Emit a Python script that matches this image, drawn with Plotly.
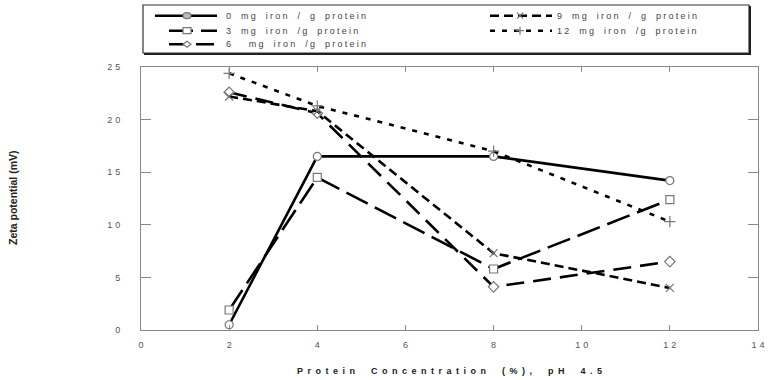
import plotly.graph_objects as go

# Protein concentration (%) at which zeta potential was measured
protein_conc = [2, 4, 8, 12]

# Zeta potential (mV) for each iron loading
zeta_0mg = [0.5, 16.5, 16.5, 14.2]
zeta_3mg = [1.9, 14.5, 5.8, 12.4]
zeta_6mg = [22.6, 20.6, 4.1, 6.5]
zeta_9mg = [22.2, 20.8, 7.3, 4.0]
zeta_12mg = [24.4, 21.3, 17.0, 10.3]

series_names = ["0 mg iron / g protein", "3 mg iron /g protein", "6  mg iron /g protein",
                "9 mg iron / g protein", "12 mg iron /g protein"]

x_ticks = [0, 2, 4, 6, 8, 10, 12, 14]
y_ticks = [0, 5, 10, 15, 20, 25]

FONT = "Liberation Sans, Arial, sans-serif"
W, H = 768, 380
M_L, M_R, M_T, M_B = 141, 10, 67, 50
PW, PH = W - M_L - M_R, H - M_T - M_B


def spaced(s, sep="\u2005", word="\u2004 "):
    """Letter-spaced label text."""
    return sep.join(word if c == " " else c for c in s)


def px_x(px):
    return (px - M_L) / PW


def px_y(py):
    return (H - M_B - py) / PH


# (name, values, dash, marker symbol, legend column, legend row)
series = [
    (series_names[0], zeta_0mg, "solid", "circle", 0, 0),
    (series_names[1], zeta_3mg, "24px,8px", "square", 0, 1),
    (series_names[2], zeta_6mg, "18px,9px", "diamond", 0, 2),
    (series_names[3], zeta_9mg, "9px,5px", "x-thin-open", 1, 0),
    (series_names[4], zeta_12mg, "5px,7px", "cross-thin-open", 1, 1),
]

MARK_GRAY = "#777777"

fig = go.Figure()
for name, vals, dash, sym, _, _ in series:
    thin = "thin" in sym
    fig.add_trace(go.Scatter(
        x=protein_conc, y=vals, name=name,
        mode="lines+markers",
        line=dict(color="black", width=2.6, dash=dash),
        marker=dict(symbol=sym, size=8,
                    color=MARK_GRAY if thin else "white",
                    line=dict(color=MARK_GRAY, width=1.2)),
        showlegend=False,
    ))

# ---- legend block drawn above the plot area ----
shapes = []
annotations = []
box_l, box_r, box_t, box_b = 143, 749, 5, 53
shapes.append(dict(type="rect", xref="paper", yref="paper",
                   x0=px_x(box_l), x1=px_x(box_r), y0=px_y(box_b), y1=px_y(box_t),
                   line=dict(color="#333333", width=1.2), fillcolor="white", layer="above"))
# heavier right / bottom edge
shapes.append(dict(type="path", xref="paper", yref="paper",
                   path=f"M {px_x(box_r + 1)} {px_y(box_t + 1)} L {px_x(box_r + 1)} {px_y(box_b + 1)} "
                        f"L {px_x(box_l + 1)} {px_y(box_b + 1)}",
                   line=dict(color="#222222", width=2), layer="above"))

row_y = [15.7, 30.7, 44.3]
col_line = [(169, 217), (490, 552)]
col_mark = [187, 520]
col_text = [224, 555]


def marker_shape(sym, cx, cy):
    r = 4
    common = dict(xref="paper", yref="paper", layer="above",
                  line=dict(color=MARK_GRAY, width=1.2))
    if sym == "circle":
        return dict(type="circle", x0=px_x(cx - r), x1=px_x(cx + r),
                    y0=px_y(cy + 3), y1=px_y(cy - 3), fillcolor="#bbbbbb", **common)
    if sym == "square":
        return dict(type="rect", x0=px_x(cx - r), x1=px_x(cx + r),
                    y0=px_y(cy + 3), y1=px_y(cy - 3), fillcolor="white", **common)
    if sym == "diamond":
        p = (f"M {px_x(cx - r)} {px_y(cy)} L {px_x(cx)} {px_y(cy - 3)} "
             f"L {px_x(cx + r)} {px_y(cy)} L {px_x(cx)} {px_y(cy + 3)} Z")
        return dict(type="path", path=p, fillcolor="white", **common)
    if sym.startswith("x"):
        p = (f"M {px_x(cx - 3)} {px_y(cy - 3)} L {px_x(cx + 3)} {px_y(cy + 3)} "
             f"M {px_x(cx - 3)} {px_y(cy + 3)} L {px_x(cx + 3)} {px_y(cy - 3)}")
        return dict(type="path", path=p, **common)
    p = (f"M {px_x(cx - 4)} {px_y(cy)} L {px_x(cx + 4)} {px_y(cy)} "
         f"M {px_x(cx)} {px_y(cy - 4)} L {px_x(cx)} {px_y(cy + 4)}")
    return dict(type="path", path=p, **common)


for name, vals, dash, sym, col, row in series:
    y = row_y[row]
    x0, x1 = col_line[col]
    if col == 0 and row == 0:
        x0 = 155
    shapes.append(dict(type="line", xref="paper", yref="paper", layer="above",
                       x0=px_x(x0), x1=px_x(x1), y0=px_y(y), y1=px_y(y),
                       line=dict(color="black", width=2.6, dash=dash)))
    shapes.append(marker_shape(sym, col_mark[col], y))
    annotations.append(dict(text=spaced(name), xref="paper", yref="paper",
                            x=px_x(col_text[col]), y=px_y(y), xanchor="left", yanchor="middle",
                            showarrow=False, font=dict(family=FONT, size=9, color="#444444")))

# y-axis title
annotations.append(dict(
    text="<b>Zeta potential (mV)</b>", xref="paper", yref="paper",
    x=px_x(13), y=px_y(198), textangle=-90, showarrow=False,
    xanchor="center", yanchor="middle",
    font=dict(family=FONT, size=10.5, color="#222222"),
))

fig.update_layout(
    width=W, height=H,
    margin=dict(l=M_L, r=M_R, t=M_T, b=M_B, autoexpand=False),
    paper_bgcolor="white", plot_bgcolor="white",
    font=dict(family=FONT, size=9, color="#333333"),
    showlegend=False,
    shapes=shapes,
    annotations=annotations,
)

fig.update_xaxes(
    range=[0, 14], tickvals=x_ticks, ticktext=[spaced(str(v), "\u2004") for v in x_ticks],
    ticks="inside", ticklen=5, tickcolor="#888888",
    showline=True, linecolor="#888888", linewidth=1, mirror="ticks",
    showgrid=False, zeroline=False,
    tickfont=dict(size=9, color="#555555"), ticklabelstandoff=6,
    title=dict(text="<b>" + spaced("Protein Concentration (%), pH 4.5", "\u2002", "\u2002 ") + "</b>",
               font=dict(size=9, color="#222222"), standoff=18),
)
fig.update_yaxes(
    range=[0, 25], tickvals=y_ticks, ticktext=[spaced(str(v), "\u2004") for v in y_ticks],
    ticks="inside", ticklen=10, tickcolor="#888888",
    showline=True, linecolor="#888888", linewidth=1, mirror="ticks",
    showgrid=False, zeroline=False,
    tickfont=dict(size=9, color="#555555"), ticklabelstandoff=18,
)

fig.write_html("out.html")
